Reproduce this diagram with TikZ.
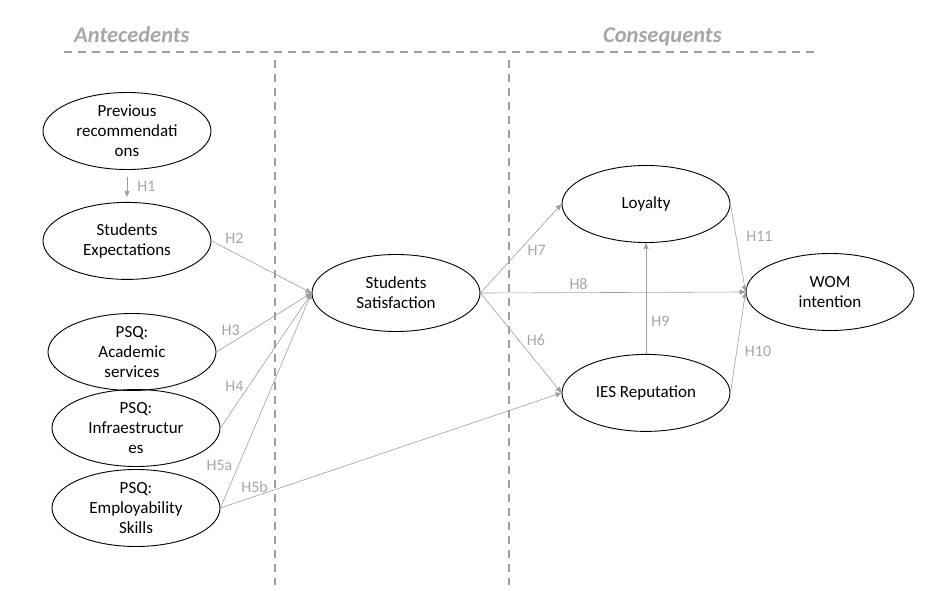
\documentclass[tikz,border=0pt]{standalone}
\usepackage{fontspec}
\setmainfont{Carlito}
\usetikzlibrary{positioning,shapes.geometric,arrows.meta}
\definecolor{hgray}{HTML}{A6A6A6}
\definecolor{lgray}{HTML}{9E9E9E}

\begin{document}
\begin{tikzpicture}
[x=1pt,y=-1pt,
 construct/.style={draw,ellipse,line width=0.9pt,minimum width=168pt,minimum height=77pt,inner sep=0pt,align=center,font=\fontsize{17}{20}\selectfont},
 hyp/.style={draw=lgray,line width=0.6pt,-{Triangle[length=6pt,width=5pt]}},
 hlab/.style={text=hgray,font=\fontsize{16}{18}\selectfont,inner sep=2pt},
 divider/.style={draw=lgray,line width=1.1pt,dash pattern=on 8pt off 6pt},
 section/.style={text=hgray,anchor=base west,inner sep=0pt,font=\fontsize{22.5}{26}\selectfont\bfseries\itshape}]
\useasboundingbox (0,0) rectangle (942,591);
\node[section](ante) at (74,43){Antecedents};
\node[section](cons) at (603,43){Consequents};
\draw[divider] (64,52) -- (818,52);
\draw[divider] (275,60) -- (275,585);
\draw[divider] (509,60) -- (509,585);
\node[construct](prev) at (127,131){Previous\\recommendati\\ons};
\node[construct, below=32pt of prev](exp){Students\\Expectations};
\node[construct](aca) at (132,352){PSQ:\\Academic\\services};
\node[construct](inf) at (136,428){PSQ:\\Infraestructur\\es};
\node[construct](emp) at (136,508){PSQ:\\Employability\\Skills};
\node[construct](sat) at (396,293){Students\\Satisfaction};
\node[construct](loy) at (646,204){Loyalty};
\node[construct, below=111pt of loy](ies){IES Reputation};
\node[construct](wom) at (830,292){WOM\\intention};
\path (prev) edge[hyp,shorten <=7pt,shorten >=5pt] node[hlab,right=8pt]{H1} (exp);
\path (exp.east) edge[hyp] node[hlab,pos=0.23,above=7pt]{H2} (sat.west);
\path (aca.east) edge[hyp] node[hlab,pos=0.15,above=5pt]{H3} (sat.west);
\path (inf.east) edge[hyp] node[hlab,pos=0.31,left=3pt]{H4} (sat.west);
\path (emp.east) edge[hyp] node[hlab,pos=0.2,left=4pt]{H5a} (sat.west);
\path (emp.east) edge[hyp] node[hlab,pos=0.1,above=2pt]{H5b} (ies.west);
\path (sat.east) edge[hyp] node[hlab,pos=0.48,right=6pt]{H7} (loy.west);
\path (sat.east) edge[hyp] node[hlab,pos=0.37,above=1pt]{H8} (wom.west);
\path (sat.east) edge[hyp] node[hlab,pos=0.47,right=6pt]{H6} (ies.west);
\path (ies.north) edge[hyp] node[hlab,pos=0.29,right=3pt]{H9} (loy.south);
\path (loy.east) edge[hyp] node[hlab,pos=0.37,right=8pt]{H11} (wom.west);
\path (ies.east) edge[hyp] node[hlab,pos=0.41,right=6pt]{H10} (wom.west);
\end{tikzpicture}
\end{document}
